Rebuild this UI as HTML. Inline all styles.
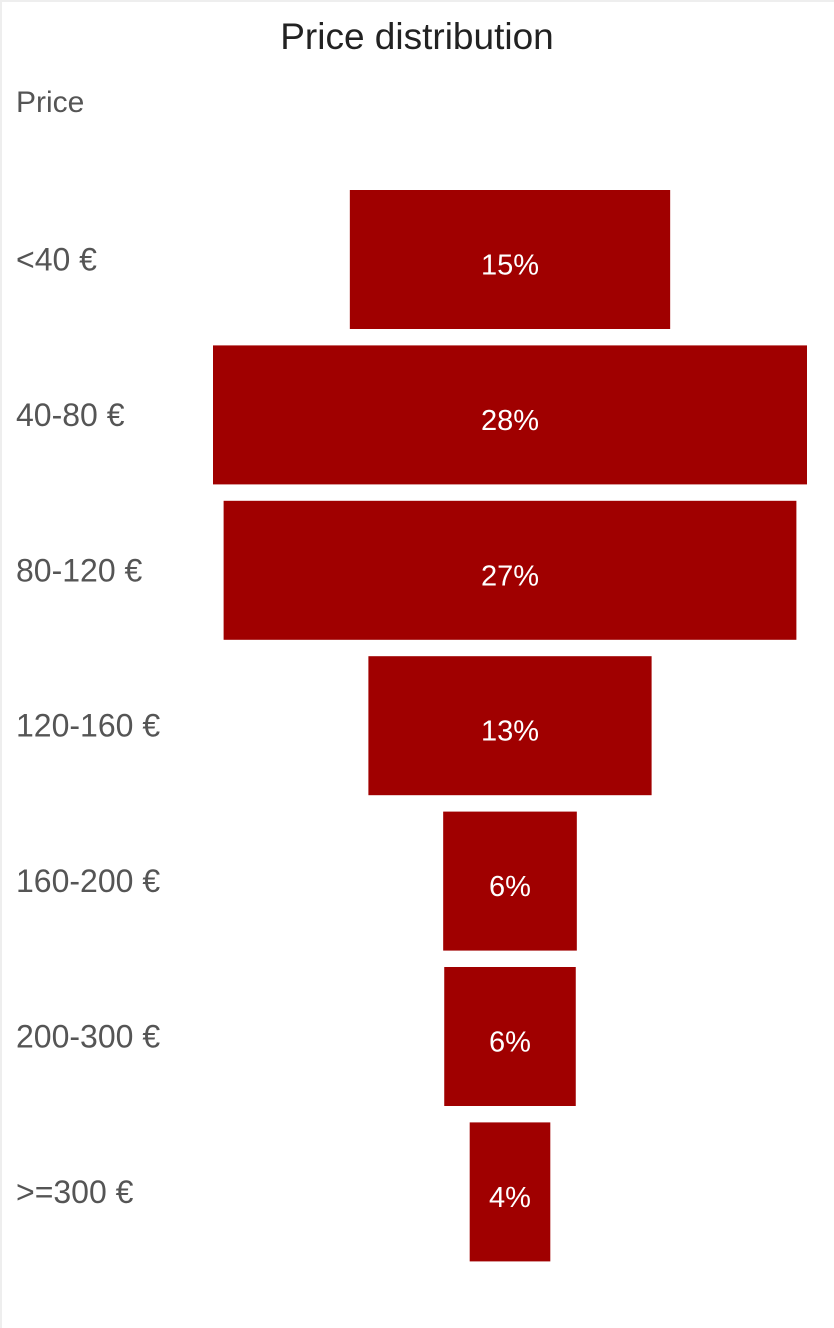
<!DOCTYPE html>
<html><head><meta charset="utf-8"><style>
html,body{margin:0;padding:0;background:#fff;}
body{width:834px;height:1328px;overflow:hidden;position:relative;font-family:"Liberation Sans","DejaVu Sans",sans-serif;}
#frame{position:absolute;left:0;top:0;width:832px;height:1326px;border-top:2px solid #eee;border-left:2px solid #eee;}
</style></head><body>
<div id="frame"></div>
<svg id="chart" width="834" height="1328" style="position:absolute;left:0;top:0">
<text x="417" y="49" text-anchor="middle" font-size="37" fill="#222">Price distribution</text>
<text x="16" y="112" font-size="30" fill="#555">Price</text>
<g id="bars"></g>
</svg>
<script>
const categories = ["<40 €","40-80 €","80-120 €","120-160 €","160-200 €","200-300 €",">=300 €"];
const values = [15.1, 28.0, 27.0, 13.35, 6.3, 6.2, 3.8];
const valueLabels = ["15%","28%","27%","13%","6%","6%","4%"];

const NS = "http://www.w3.org/2000/svg";
const g = document.getElementById("bars");
const maxV = Math.max(...values);
const cx = 510, maxW = 594, top0 = 190, step = 155.4, barH = 139;
function xw(v){ return v / maxV * maxW; }
function yPos(i){ return top0 + i * step; }
categories.forEach((c, i) => {
  const w = xw(values[i]);
  const y = yPos(i);
  const r = document.createElementNS(NS, "rect");
  r.setAttribute("x", cx - w/2); r.setAttribute("y", y);
  r.setAttribute("width", w); r.setAttribute("height", barH);
  r.setAttribute("fill", "#a00000");
  
  
  g.appendChild(r);
  const t = document.createElementNS(NS, "text");
  t.setAttribute("x", cx); t.setAttribute("y", y + barH/2 + 15);
  t.setAttribute("text-anchor", "middle"); t.setAttribute("font-size", "29");
  t.setAttribute("fill", "#fff");
  t.textContent = valueLabels[i];
  
  
  g.appendChild(t);
  const l = document.createElementNS(NS, "text");
  l.setAttribute("x", 16); l.setAttribute("y", y + barH/2 + 11);
  l.setAttribute("font-size", "32"); l.setAttribute("fill", "#555");
  l.textContent = c;
  
  
  g.appendChild(l);
});
</script>
</body></html>
